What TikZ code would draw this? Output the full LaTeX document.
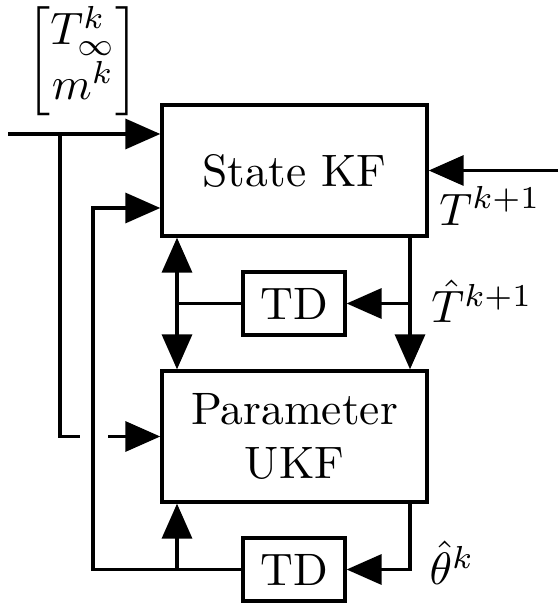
\documentclass[tikz,border=0pt]{standalone}
\usepackage{amsmath}
\usetikzlibrary{arrows.meta}
\tikzset{
  box/.style={draw, line width=0.75pt, inner sep=0pt, align=center},
  bigbox/.style={box, minimum width=58.3pt, minimum height=28.8pt},
  tdbox/.style={box, minimum width=22.4pt, minimum height=13.9pt},
  lab/.style={inner sep=0pt},
  arr/.style={line width=0.75pt, -{Triangle[length=7.7pt,width=6.6pt]}},
  ln/.style={line width=0.75pt},
}
\begin{document}
\begin{tikzpicture}[x=0.22pt,y=-0.22pt]
\useasboundingbox (0,0) rectangle (558,606);
\node[bigbox] (sk) at (294.5,170.5) {State KF};
\node[bigbox] (pk) at (294.5,436.5) {Parameter\\UKF};
\node[tdbox] (td1) at (294,303.5) {TD};
\node[tdbox] (td2) at (294,569.5) {TD};
\node[lab] (vec) at (83,61) {$\begin{bmatrix} T^k_\infty \\ m^k\end{bmatrix}$};
\node[lab] (tk) at (490,206) {$T^{k+1}$};
\node[lab] (thk) at (482,301) {$\hat{T}^{k+1}$};
\node[lab] (th) at (452,563) {$\hat{\theta}^k$};
\coordinate (in1) at (8,134);
\coordinate (tin) at (558,170.5);
\coordinate (xa) at (60,0);
\coordinate (xb) at (93,0);
\coordinate (xl) at (177,0);
\coordinate (xr) at (410,0);
\coordinate (gapa) at (80,436.5);
\coordinate (gapb) at (108,436.5);
\coordinate (fb) at (93,208);
% inputs
\draw[arr] (in1) -- (in1 -| sk.west);
\draw[ln] (xa |- in1) |- (gapa);
\draw[arr] (gapb) -- (pk.west);
\draw[arr] (tin) -- (sk.east);
% feedback from bottom TD
\draw[arr] (td2.west) -| (fb) -- (fb -| sk.west);
\draw[arr] (xl |- td2.west) -- (xl |- pk.south);
% middle TD
\draw[ln] (td1.west) -- (xl |- td1.west);
\draw[arr] (xl |- td1.west) -- (xl |- sk.south);
\draw[arr] (xl |- td1.west) -- (xl |- pk.north);
% right side
\draw[arr] (xr |- sk.south) -- (xr |- pk.north);
\draw[arr] (xr |- td1.east) -- (td1.east);
\draw[arr] (xr |- pk.south) |- (td2.east);
\end{tikzpicture}
\end{document}
